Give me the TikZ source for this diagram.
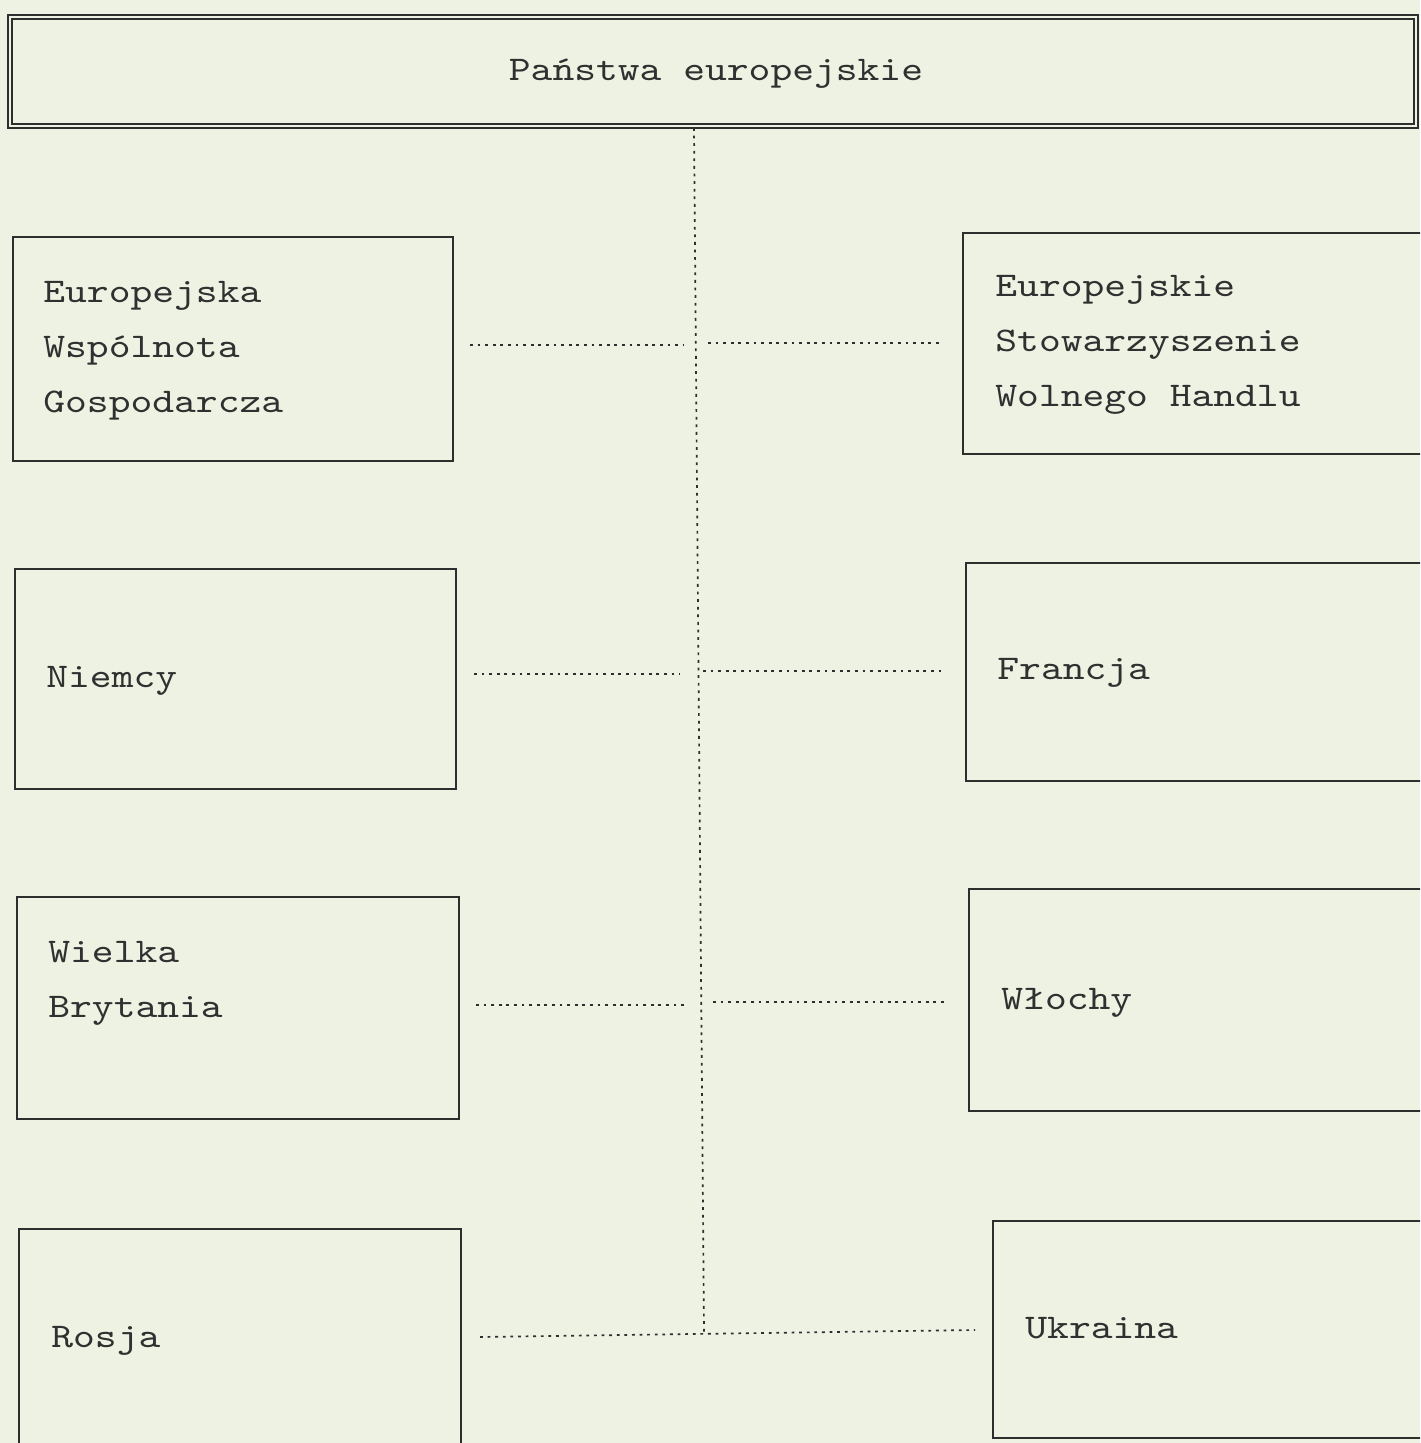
\documentclass[tikz,border=0pt]{standalone}
\usepackage{fontspec}
\newfontfamily\tw{lmmono10-regular}[Extension=.otf,FakeStretch=1.2]
\definecolor{paper}{HTML}{EEF2E3}
\definecolor{ink}{HTML}{2E2E2E}
\definecolor{txt}{HTML}{303030}
\begin{document}
\begin{tikzpicture}[x=0.5pt,y=-0.5pt,
  lbl/.style={font=\tw\fontsize{17.3pt}{27.5pt}\selectfont, text=txt,
    inner sep=0pt, align=left},
  txtl/.style={lbl, anchor=west},
  box/.style 2 args={draw=ink, line width=0.9pt, anchor=north west,
    minimum width=#1, minimum height=#2, inner sep=0pt},
  topbox/.style={draw=ink, line width=0.8pt, double=paper,
    double distance=1.4pt, minimum width=703pt, minimum height=54.5pt},
  conn/.style={draw=ink, line width=0.85pt, dash pattern=on 1.4pt off 2.4pt}]
\useasboundingbox (0,0) rectangle (1420,1443);
\fill[paper] (0,0) rectangle (1420,1443);
\clip (0,0) rectangle (1420,1443);

% top box
\node[topbox] (top) at (713,71.5) {};
\node[lbl] (top-t) at (716,73.5) {Państwa europejskie};

% left boxes
\node[box={220pt}{112pt}] (ewg) at (12,236) {};
\node[box={220.5pt}{110pt}] (niemcy) at (14,568) {};
\node[box={221pt}{111pt}] (wb) at (16,896) {};
\node[box={221pt}{110pt}] (rosja) at (18,1228) {};

% right boxes
\node[box={239pt}{110.5pt}] (efta) at (962,232) {};
\node[box={237.5pt}{109pt}] (francja) at (965,562) {};
\node[box={236pt}{111pt}] (wlochy) at (968,888) {};
\node[box={224pt}{108.5pt}] (ukraina) at (992,1220) {};

% texts
\node[txtl] (ewg-t) at (43,351) {Europejska\\Wspólnota\\Gospodarcza};
\node[txtl] (niemcy-t) at (46,681) {Niemcy};
\node[txtl] (wb-t) at (48,983.5) {Wielka\\Brytania};
\node[txtl] (rosja-t) at (51,1341) {Rosja};
\node[txtl] (efta-t) at (995,345) {Europejskie\\Stowarzyszenie\\Wolnego Handlu};
\node[txtl] (francja-t) at (997,673) {Francja};
\node[txtl] (wlochy-t) at (1001,1003) {Włochy};
\node[txtl] (ukraina-t) at (1025,1328) {Ukraina};

% connector end points
\coordinate (vtop) at (694,128);
\coordinate (vbot) at (704,1333);
\coordinate (a1) at (470,345); \coordinate (a2) at (683,345);
\coordinate (b1) at (708,343); \coordinate (b2) at (942,343);
\coordinate (c1) at (474,674); \coordinate (c2) at (680,674);
\coordinate (d1) at (703,671); \coordinate (d2) at (945,671);
\coordinate (e1) at (476,1005); \coordinate (e2) at (688,1005);
\coordinate (f1) at (713,1002); \coordinate (f2) at (947,1002);
\coordinate (g1) at (480,1337); \coordinate (g2) at (975,1330);

% connectors
\draw[conn] (vtop) -- (vbot);
\draw[conn] (a1) -- (a2);
\draw[conn] (b1) -- (b2);
\draw[conn] (c1) -- (c2);
\draw[conn] (d1) -- (d2);
\draw[conn] (e1) -- (e2);
\draw[conn] (f1) -- (f2);
\draw[conn] (g1) -- (g2);
\end{tikzpicture}
\end{document}
